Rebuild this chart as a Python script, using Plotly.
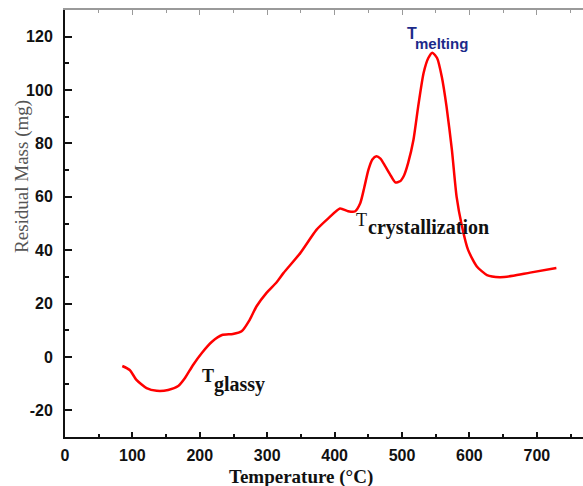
import plotly.graph_objects as go

# Data
temperature = [85, 96, 106, 121, 136, 153, 168, 178, 190, 203, 218, 233, 249, 262, 274,
               284, 299, 314, 324, 349, 373, 391, 408, 420, 430, 438, 444, 450, 456,
               462, 468, 475, 482, 490, 497, 503, 509, 517, 524, 532, 539, 545, 552,
               559, 566, 574, 581, 589, 598, 611, 626, 645, 665, 690, 729]
mass = [-3.4, -4.9, -8.6, -11.7, -12.7, -12.4, -10.9, -7.9, -3.0, 1.5, 5.7, 8.2, 8.6,
        9.6, 13.9, 18.9, 24.0, 28.0, 31.4, 38.9, 47.6, 52.0, 55.6, 54.6, 54.5, 57.6,
        63.5, 70.0, 74.0, 75.2, 74.3, 71.5, 68.5, 65.4, 65.8, 68.0, 72.6, 81.4, 93.9,
        106.4, 112.0, 114.0, 112.0, 105.0, 93.9, 77.6, 60.0, 48.9, 40.1, 33.9, 30.7,
        29.9, 30.4, 31.6, 33.3]

x_ticks = [0, 100, 200, 300, 400, 500, 600, 700]
y_ticks = [-20, 0, 20, 40, 60, 80, 100, 120]
y_tick_text = ["-20", "0", "20", "40", "60", "80", "100", "120"]
x_range = [0, 768.5]
y_range = [-30, 130]

fig = go.Figure()
fig.add_trace(go.Scatter(
    x=temperature, y=mass, mode="lines",
    line=dict(color="#ff0000", width=2.5, shape="spline", smoothing=0.6),
    showlegend=False, hoverinfo="skip"))
# invisible trace to carry the top axis
fig.add_trace(go.Scatter(x=[x_range[0]], y=[y_range[0]], xaxis="x2", mode="markers",
                         marker=dict(opacity=0), showlegend=False, hoverinfo="skip"))

tickfont = dict(family="Liberation Sans", size=16, color="#111111", weight="bold")

fig.update_layout(
    width=583, height=486,
    margin=dict(l=65, r=0, t=10, b=49),
    paper_bgcolor="white", plot_bgcolor="white",
    xaxis=dict(range=x_range, tickvals=x_ticks, showgrid=False, zeroline=False,
               showline=True, linecolor="#111111", linewidth=2,
               ticks="inside", ticklen=5, tickwidth=1.5, tickcolor="#111111",
               minor=dict(dtick=50, tick0=0, ticks="inside", ticklen=3, tickwidth=1.5,
                          tickcolor="#111111", showgrid=False),
               tickfont=tickfont, ticklabelstandoff=3),
    xaxis2=dict(range=x_range, overlaying="x", side="top", anchor="y",
                showgrid=False, zeroline=False, showline=True,
                linecolor="#9a9a9a", linewidth=1.5, tickvals=x_ticks,
                ticks="inside", ticklen=5, tickwidth=1.2, tickcolor="#9a9a9a",
                minor=dict(dtick=50, tick0=0, ticks="inside", ticklen=3, tickwidth=1.2,
                           tickcolor="#9a9a9a", showgrid=False),
                showticklabels=False),
    yaxis=dict(range=y_range, tickvals=y_ticks, ticktext=y_tick_text,
               showgrid=False, zeroline=False,
               showline=True, linecolor="#111111", linewidth=2,
               ticks="inside", ticklen=7, tickwidth=2, tickcolor="#111111",
               minor=dict(dtick=10, tick0=0, ticks="inside", ticklen=4, tickwidth=1.5,
                          tickcolor="#111111", showgrid=False),
               tickfont=tickfont, ticklabelstandoff=7),
)

serif = "Liberation Serif"
annotations = [
    # axis titles
    dict(text="Residual Mass (mg)", xref="paper", yref="paper", x=-0.083, y=0.609,
         textangle=-90, showarrow=False, xanchor="center", yanchor="middle",
         font=dict(family=serif, size=19, color="#555555")),
    dict(text="<b>Temperature (°C)</b>", xref="paper", yref="paper", x=0.4556, y=-0.094,
         showarrow=False, xanchor="center", yanchor="middle",
         font=dict(family=serif, size=19, color="#111111")),
    # T melting
    dict(text="<b>T</b>", x=505, y=121.3, showarrow=False, xanchor="left", yanchor="middle",
         font=dict(family="Liberation Sans", size=16, color="#1c2a8a")),
    dict(text="<b>melting</b>", x=516, y=117.3, showarrow=False, xanchor="left", yanchor="middle",
         font=dict(family="Liberation Sans", size=15, color="#1c2a8a")),
    # T crystallization
    dict(text="T", x=429, y=51.3, showarrow=False, xanchor="left", yanchor="middle",
         font=dict(family=serif, size=18, color="#111111")),
    dict(text="<b>crystallization</b>", x=447, y=48.4, showarrow=False, xanchor="left",
         yanchor="middle", font=dict(family=serif, size=20, color="#111111")),
    # T glassy
    dict(text="<b>T</b>", x=201, y=-7.0, showarrow=False, xanchor="left", yanchor="middle",
         font=dict(family=serif, size=18, color="#111111")),
    dict(text="<b>glassy</b>", x=218, y=-10.2, showarrow=False, xanchor="left",
         yanchor="middle", font=dict(family=serif, size=20, color="#111111")),
]
fig.update_layout(annotations=annotations)

fig.write_html("out.html")
